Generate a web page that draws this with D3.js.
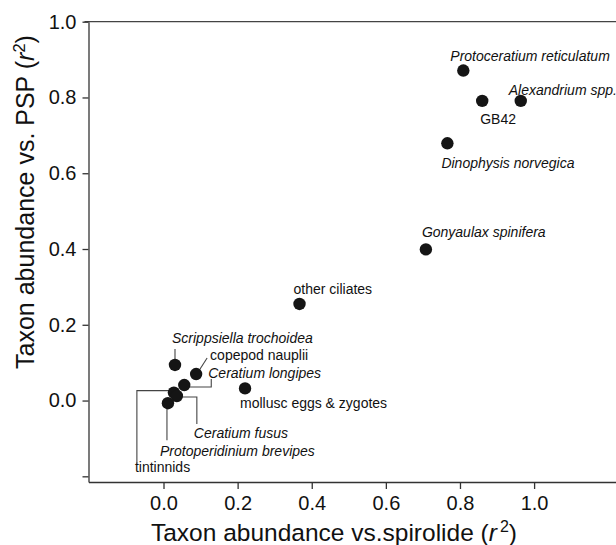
<!DOCTYPE html>
<html>
<head>
<meta charset="utf-8">
<script src="https://cdn.jsdelivr.net/npm/d3@7"></script>
<style>
  body { margin: 0; background: #fff; }
  text { font-family: "Liberation Sans", Arial, sans-serif; fill: #111; }
</style>
</head>
<body>
<div id="chart"></div>
<script>
// Data: r2 of taxon abundance vs spirolide (x) and vs PSP (y)
var taxa = ['Protoceratium reticulatum', 'GB42', 'Alexandrium spp.', 'Dinophysis norvegica',
  'Gonyaulax spinifera', 'other ciliates', 'mollusc eggs & zygotes', 'Scrippsiella trochoidea',
  'copepod nauplii', 'Ceratium longipes', 'tintinnids', 'Ceratium fusus', 'Protoperidinium brevipes'];
var spiroR2 = [0.809, 0.860, 0.964, 0.766, 0.708, 0.367, 0.220, 0.031, 0.088, 0.056, 0.028, 0.036, 0.012];
var pspR2 = [0.871, 0.791, 0.791, 0.679, 0.399, 0.255, 0.032, 0.094, 0.070, 0.041, 0.021, 0.012, -0.007];
var italicName = [true, false, true, true, true, false, false, true, false, true, false, true, true];

var xTicks = [0, 0.2, 0.4, 0.6, 0.8, 1.0];
var yTicks = [-0.2, 0, 0.2, 0.4, 0.6, 0.8, 1.0];

// Label placement (pixel offsets from the dot) and leader lines
var labelPos = {
  'Protoceratium reticulatum': { dx: -13, dy: -10 },
  'GB42': { dx: -2, dy: 23 },
  'Alexandrium spp.': { dx: -12, dy: -6 },
  'Dinophysis norvegica': { dx: -6, dy: 25 },
  'Gonyaulax spinifera': { dx: -4, dy: -12 },
  'other ciliates': { dx: -6, dy: -10 },
  'mollusc eggs & zygotes': { dx: -5, dy: 20 },
  'Scrippsiella trochoidea': { dx: -3, dy: -22, lead: [[0, -5], [0, -16]] },
  'copepod nauplii': { dx: 14, dy: -14, lead: [[2, -2], [11, -16]] },
  'Ceratium longipes': { dx: 24, dy: -7, lead: [[0, 2], [27, 2], [27, -6]] },
  'tintinnids': { dx: -39, dy: 79, lead: [[3, -2], [-37, -2], [-37, 71]] },
  'Ceratium fusus': { dx: 17, dy: 42, lead: [[0, 1], [20, 1], [20, 28]] },
  'Protoperidinium brevipes': { dx: -8, dy: 53, lead: [[-1, 0], [-1, 37]] }
};

var svgWidth = 616;
var svgHeight = 545;

var svg = d3.select("#chart")
  .append("svg")
  .attr("width", svgWidth)
  .attr("height", svgHeight);

var xScale = d3.scaleLinear()
  .domain([-0.2024, 1.221])
  .range([88.5, 616]);

var yScale = d3.scaleLinear()
  .domain([-0.215, 1.0])
  .range([482, 21.7]);

var points = taxa.map((name, i) => ({ name: name, x: spiroR2[i], y: pspR2[i], italic: italicName[i] }));

// top frame line
svg.append("line")
  .attr("x1", xScale.range()[0] - 4)
  .attr("x2", svgWidth)
  .attr("y1", yScale(1.0))
  .attr("y2", yScale(1.0))
  .attr("stroke", "#444")
  .attr("stroke-width", 1.3);

// x axis
var xAxis = svg.append("g")
  .attr("transform", `translate(0, ${yScale.range()[0]})`)
  .call(d3.axisBottom(xScale).tickValues(xTicks).tickSize(7).tickSizeOuter(0).tickPadding(7)
    .tickFormat(d3.format(".1f")));

// y axis
var yAxis = svg.append("g")
  .attr("transform", `translate(${xScale.range()[0]}, 0)`)
  .call(d3.axisLeft(yScale).tickValues(yTicks).tickSize(6).tickSizeOuter(0).tickPadding(6)
    .tickFormat(d => d < -0.1 ? "" : d3.format(".1f")(d)));

svg.selectAll(".domain, .tick line")
  .attr("stroke", "#333")
  .attr("stroke-width", 1.3);
svg.selectAll(".tick text")
  .attr("font-size", "20px")
  .attr("font-family", "Liberation Sans, Arial, sans-serif")
  .attr("fill", "#111");

// axis titles
var xTitle = svg.append("text")
  .attr("x", 334)
  .attr("y", 541)
  .attr("text-anchor", "middle")
  .attr("font-size", "24.5px");
xTitle.append("tspan").text("Taxon abundance vs.spirolide (");
xTitle.append("tspan").attr("font-style", "italic").text("r");
xTitle.append("tspan").attr("font-size", "16px").attr("dx", 3).attr("dy", -9).text("2");
xTitle.append("tspan").attr("dy", 9).text(")");

var yTitle = svg.append("text")
  .attr("transform", "translate(34, 202) rotate(-90)")
  .attr("text-anchor", "middle")
  .attr("font-size", "25px");
yTitle.append("tspan").text("Taxon abundance vs. PSP (");
yTitle.append("tspan").attr("font-style", "italic").text("r");
yTitle.append("tspan").attr("font-size", "16.5px").attr("dy", -9).text("2");
yTitle.append("tspan").attr("dy", 9).text(")");

// leader lines go under the dots
var leaders = svg.append("g").attr("class", "leaders");
points.forEach(p => {
  var lp = labelPos[p.name];
  if (!lp.lead) return;
  var cx = xScale(p.x), cy = yScale(p.y);
  leaders.append("polyline")
    .attr("points", lp.lead.map(o => (cx + o[0]) + "," + (cy + o[1])).join(" "))
    .attr("fill", "none")
    .attr("stroke", "#444")
    .attr("stroke-width", 1.1);
});

// dots
svg.append("g")
  .selectAll("circle")
  .data(points)
  .enter()
  .append("circle")
  .attr("cx", d => xScale(d.x))
  .attr("cy", d => yScale(d.y))
  .attr("r", 6.2)
  .attr("fill", "#151515");

// labels
svg.append("g")
  .selectAll("text")
  .data(points)
  .enter()
  .append("text")
  .attr("x", d => xScale(d.x) + labelPos[d.name].dx)
  .attr("y", d => yScale(d.y) + labelPos[d.name].dy)
  .attr("font-size", "14px")
  .attr("font-style", d => d.italic ? "italic" : "normal")
  .text(d => d.name);
</script>
</body>
</html>
